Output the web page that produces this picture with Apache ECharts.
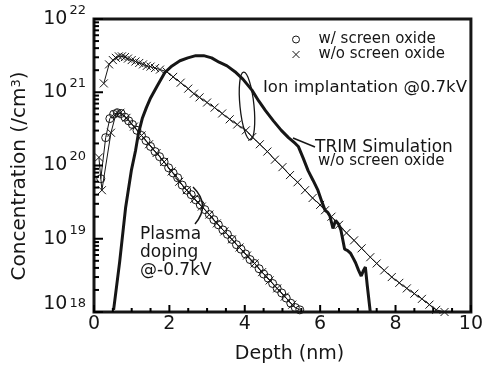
<!DOCTYPE html>
<html>
<head>
<meta charset="utf-8">
<script src="https://cdn.jsdelivr.net/npm/echarts@6/dist/echarts.min.js"></script>
<style>
  html, body { margin: 0; padding: 0; background: #fff; }
  #chart { width: 486px; height: 369px; }
</style>
</head>
<body>
<div id="chart"></div>
<script>
// ion implantation, w/o screen oxide (upper crosses)
const ionDepth = [0.26, 0.40, 0.50, 0.58, 0.66, 0.74, 0.82, 0.90, 1.00, 1.10, 1.20, 1.30, 1.40, 1.50, 1.62, 1.75, 1.93,
  2.1, 2.3, 2.5, 2.65, 2.8, 3.0, 3.2, 3.4, 3.6, 3.8, 4.03, 4.2, 4.4, 4.6, 4.8, 5.0, 5.2, 5.4, 5.6, 5.8, 6.0, 6.13,
  6.3, 6.5, 6.7, 6.9, 7.1, 7.33, 7.5, 7.7, 7.9, 8.1, 8.3, 8.5, 8.7, 8.9, 9.08, 9.3];
const ionConc = [1.32e21, 2.40e21, 2.75e21, 2.95e21, 3.09e21, 3.09e21, 3.02e21, 2.88e21, 2.75e21, 2.63e21, 2.51e21, 2.40e21, 2.29e21, 2.24e21, 2.14e21, 2.04e21, 1.91e21,
  1.62e21, 1.35e21, 1.12e21, 9.55e20, 8.51e20, 7.24e20, 6.17e20, 5.13e20, 4.27e20, 3.63e20, 3.02e20, 2.45e20, 1.95e20, 1.55e20, 1.20e20, 9.5e19, 7.4e19, 5.9e19, 4.6e19, 3.6e19, 2.9e19, 2.45e19,
  2.0e19, 1.55e19, 1.2e19, 9.5e18, 7.4e18, 5.6e18, 4.6e18, 3.7e18, 3.0e18, 2.5e18, 2.1e18, 1.78e18, 1.51e18, 1.26e18, 1.07e18, 1.0e18];

// plasma doping, w/ screen oxide (circles)
const pdOxDepth = [0.18, 0.31, 0.42, 0.52, 0.62, 0.72, 0.82, 0.92, 1.02, 1.14, 1.26, 1.38, 1.50, 1.62, 1.74, 1.86, 1.98,
  2.10, 2.22, 2.34, 2.46, 2.58, 2.70, 2.82, 2.94, 3.06, 3.18, 3.30, 3.42, 3.54, 3.66, 3.78, 3.90, 4.02, 4.14, 4.26,
  4.38, 4.50, 4.62, 4.74, 4.86, 4.98, 5.10, 5.22, 5.34, 5.46];
const pdOxConc = [6.6e19, 2.4e20, 4.37e20, 5.0e20, 5.25e20, 5.13e20, 4.57e20, 4.07e20, 3.63e20, 3.02e20, 2.57e20, 2.19e20, 1.82e20, 1.55e20, 1.32e20, 1.12e20, 9.3e19,
  7.9e19, 6.8e19, 5.4e19, 4.6e19, 4.0e19, 3.4e19, 2.9e19, 2.5e19, 2.14e19, 1.82e19, 1.55e19, 1.32e19, 1.15e19, 9.8e18, 8.3e18, 7.2e18, 6.2e18, 5.2e18, 4.6e18,
  3.9e18, 3.3e18, 2.9e18, 2.45e18, 2.1e18, 1.82e18, 1.55e18, 1.32e18, 1.15e18, 1.07e18];

// plasma doping, w/o screen oxide (lower crosses)
const pdDepth = [0.13, 0.21, 0.45, 0.58, 0.70, 0.86, 1.06, 1.26, 1.46, 1.66, 1.86, 2.06, 2.26, 2.46, 2.66, 2.86,
  3.06, 3.26, 3.46, 3.66, 3.86, 4.06, 4.26, 4.46, 4.66, 4.86, 5.06, 5.26];
const pdConc = [1.29e20, 4.6e19, 2.8e20, 5.0e20, 5.25e20, 4.47e20, 3.4e20, 2.57e20, 1.95e20, 1.48e20, 1.12e20, 8.3e19, 6.0e19, 4.6e19, 3.5e19, 2.75e19,
  2.14e19, 1.62e19, 1.26e19, 9.8e18, 7.6e18, 5.9e18, 4.6e18, 3.5e18, 2.7e18, 2.1e18, 1.62e18, 1.26e18];

// TRIM simulation (thick line)
const trimDepth = [0.52, 0.68, 0.84, 0.99, 1.10, 1.18, 1.28, 1.39, 1.49, 1.68, 1.88, 2.07, 2.28, 2.49, 2.70, 2.91, 3.12,
  3.32, 3.53, 3.74, 3.95, 4.19, 4.37, 4.55, 4.76, 4.97, 5.16, 5.34, 5.42, 5.55, 5.68, 5.81, 5.94, 6.05, 6.13, 6.20,
  6.26, 6.34, 6.41, 6.49, 6.55, 6.65, 6.73, 6.81, 6.88, 6.94, 7.02, 7.09, 7.15, 7.20, 7.25, 7.33];
const trimConc = [1.07e18, 4.8e18, 2.7e19, 8.5e19, 1.58e20, 2.75e20, 4.37e20, 6.17e20, 8.13e20, 1.23e21, 1.86e21, 2.29e21, 2.69e21, 2.95e21, 3.16e21, 3.16e21, 2.95e21,
  2.57e21, 2.29e21, 1.91e21, 1.51e21, 1.07e21, 7.6e20, 5.6e20, 4.07e20, 3.02e20, 2.4e20, 2.0e20, 1.82e20, 1.26e20, 8.5e19, 6.3e19, 4.6e19, 3.16e19, 2.45e19, 2.29e19,
  2.04e19, 1.38e19, 1.78e19, 1.58e19, 1.32e19, 7.2e18, 6.9e18, 6.3e18, 5.4e18, 4.7e18, 3.7e18, 3.1e18, 3.7e18, 4.1e18, 2.3e18, 1.0e18];

// tick values
const xMajor = [0, 2, 4, 6, 8, 10];
const xMinor = [0.5, 1, 1.5, 2.5, 3, 3.5, 4.5, 5, 5.5, 6.5, 7, 7.5, 8.5, 9, 9.5];
const yDecades = [1e18, 1e19, 1e20, 1e21, 1e22];
const minorMult = [2, 3, 4, 5, 6, 7, 8, 9];

const FONT = 'DejaVu Sans';
const INK = '#161616';
const cross = 'path://M0,0L10,10M10,0L0,10';

const zip = (xs, ys) => xs.map((x, i) => [x, ys[i]]);

const yMinor = [];
yDecades.slice(0, -1).forEach(d => minorMult.forEach(m => yMinor.push(d * m)));

// inward tick marks: [x, y, dx, dy] anchored on the axes' own scales
const tickData = []
  .concat(xMajor.map(v => [v, 1e18, 0, -7]))
  .concat(xMinor.map(v => [v, 1e18, 0, -4]))
  .concat(yDecades.map(v => [0, v, 9, 0]))
  .concat(yMinor.map(v => [0, v, 5, 0]));

const chart = echarts.init(document.getElementById('chart'));

const option = {
  animation: false,
  backgroundColor: '#fff',
  grid: {
    left: 94, right: 9, top: 19, bottom: 57,
    show: true, backgroundColor: 'transparent', borderColor: INK, borderWidth: 3
  },
  legend: {
    orient: 'vertical',
    left: 287, top: 27,
    itemWidth: 7, itemHeight: 7, itemGap: 0,
    selectedMode: false,
    textStyle: { fontFamily: FONT, fontSize: 15, color: INK, lineHeight: 13, padding: [0, 0, 0, 14] },
    itemStyle: { color: 'transparent', borderColor: INK, borderWidth: 1 },
    data: [
      { name: 'w/ screen oxide', icon: 'circle' },
      { name: 'w/o screen oxide', icon: cross }
    ]
  },
  xAxis: {
    type: 'value', min: 0, max: 10, interval: 2,
    name: 'Depth (nm)', nameLocation: 'middle', nameGap: 33,
    nameTextStyle: { fontFamily: FONT, fontSize: 19, color: INK, padding: [0, 0, 0, 14] },
    axisLine: { show: false, onZero: false },
    axisTick: { show: false },
    splitLine: { show: false },
    axisLabel: { margin: 3, fontFamily: FONT, fontSize: 19, color: INK }
  },
  yAxis: {
    type: 'log', logBase: 10, min: 1e18, max: 1e22,
    axisLine: { show: false, onZero: false },
    axisTick: { show: false },
    splitLine: { show: false },
    axisLabel: {
      align: 'right', margin: 8, color: INK,
      formatter: v => {
        const e = Math.round(Math.log10(v));
        return e === 18 ? '{bl|10}{s|' + e + '}' : '{b|10}{s|' + e + '}';
      },
      rich: {
        b: { fontFamily: FONT, fontSize: 19, lineHeight: 30, color: INK },
        bl: { fontFamily: FONT, fontSize: 19, lineHeight: 30, color: INK, padding: [0, 0, 16, 0] },
        s: { fontFamily: FONT, fontSize: 13, lineHeight: 13, verticalAlign: 'top', color: INK, padding: [0, 0, 0, 2] }
      }
    }
  },
  series: [
    {
      name: 'w/o screen oxide', type: 'line', data: zip(ionDepth, ionConc),
      symbol: cross, symbolSize: 8,
      lineStyle: { color: INK, width: 1 },
      itemStyle: { color: INK, borderColor: INK, borderWidth: 1 }
    },
    {
      name: 'w/ screen oxide', type: 'line', data: zip(pdOxDepth, pdOxConc),
      symbol: 'circle', symbolSize: 8,
      lineStyle: { color: INK, width: 1 },
      itemStyle: { color: 'transparent', borderColor: INK, borderWidth: 1 }
    },
    {
      name: 'w/o screen oxide', type: 'line', data: zip(pdDepth, pdConc),
      symbol: cross, symbolSize: 8,
      lineStyle: { color: INK, width: 1 },
      itemStyle: { color: INK, borderColor: INK, borderWidth: 1 }
    },
    {
      name: 'TRIM Simulation', type: 'line', data: zip(trimDepth, trimConc),
      symbol: 'none', lineStyle: { color: INK, width: 3 }, z: 3
    },
    {
      name: 'ticks', type: 'custom', data: tickData, silent: true, z: 5,
      renderItem: (params, api) => {
        const p = api.coord([api.value(0), api.value(1)]);
        return {
          type: 'line',
          shape: { x1: p[0], y1: p[1], x2: p[0] + api.value(2), y2: p[1] + api.value(3) },
          style: { stroke: '#000', lineWidth: 2 }
        };
      }
    }
  ],
  graphic: [
    {
      type: 'text', x: 20, y: 176, rotation: Math.PI / 2,
      style: {
        text: 'Concentration (/cm{s|3})', fontFamily: FONT, fontSize: 20, fill: INK,
        align: 'center', verticalAlign: 'middle',
        rich: { s: { fontFamily: FONT, fontSize: 13, verticalAlign: 'top', fill: INK } }
      }
    },
    {
      type: 'text', x: 263, y: 88,
      style: { text: 'Ion implantation @0.7kV', fontFamily: FONT, fontSize: 16.5, fill: INK, verticalAlign: 'middle' }
    },
    {
      type: 'ellipse', x: 247, y: 106, rotation: 0.1,
      shape: { cx: 0, cy: 0, rx: 7, ry: 34 },
      style: { fill: 'none', stroke: INK, lineWidth: 1.3 }
    },
    {
      type: 'text', x: 315, y: 148,
      style: { text: 'TRIM Simulation', fontFamily: FONT, fontSize: 17, fill: INK, verticalAlign: 'middle' }
    },
    {
      type: 'text', x: 318, y: 161,
      style: { text: 'w/o screen oxide', fontFamily: FONT, fontSize: 15, fill: INK, verticalAlign: 'middle' }
    },
    {
      type: 'line', shape: { x1: 293, y1: 138, x2: 315, y2: 147 },
      style: { stroke: INK, lineWidth: 1.5 }
    },
    {
      type: 'text', x: 140, y: 226,
      style: { text: 'Plasma\ndoping\n@-0.7kV', fontFamily: FONT, fontSize: 17, lineHeight: 18, fill: INK }
    },
    {
      type: 'bezierCurve',
      shape: { x1: 193, y1: 187, cpx1: 211, cpy1: 205, x2: 195, y2: 224 },
      style: { fill: 'none', stroke: INK, lineWidth: 1.5 }
    }
  ]
};

chart.setOption(option);
</script>
</body>
</html>
